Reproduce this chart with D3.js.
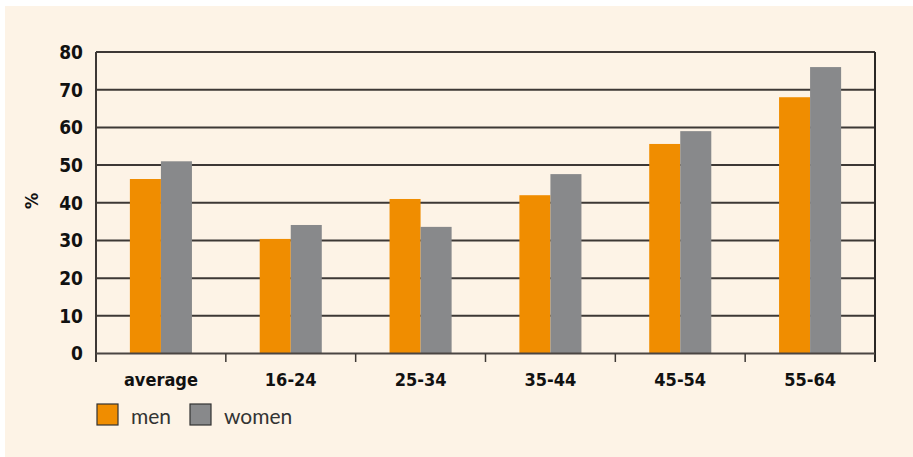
<!DOCTYPE html>
<html><head><meta charset="utf-8">
<script src="https://cdn.jsdelivr.net/npm/d3@7"></script>
<style>body{margin:0;background:#fff;}svg{display:block;}</style>
</head><body>
<svg id="chart" width="913" height="457"></svg>
<script>
const categories = ["average","16-24","25-34","35-44","45-54","55-64"];
const men =   [46.3, 30.4, 41.0, 42.0, 55.6, 68.0];
const women = [51.0, 34.1, 33.6, 47.6, 59.0, 76.0];
const yTicks = [0,10,20,30,40,50,60,70,80];
const seriesNames = ["men","women"];
const colors = ["#f08d00","#88898b"];

(function(){
const svg = d3.select("#chart");
svg.append("rect").attr("x",5).attr("y",6).attr("width",908).attr("height",451).attr("fill","#fdf3e6");

const pL=96, pR=875, pT=52, pB=353.5;
const x = d3.scaleBand().domain(categories).range([pL,pR]);
const groupW = x.bandwidth()*0.478;
const xsub = d3.scaleBand().domain(seriesNames).range([(x.bandwidth()-groupW)/2,(x.bandwidth()+groupW)/2]);
const y = d3.scaleLinear().domain([0,80]).range([pB,pT]);

// gridlines
svg.append("g").selectAll("line").data(yTicks.filter(d=>d>0)).join("line")
  .attr("x1",pL).attr("x2",pR).attr("y1",d=>y(d)).attr("y2",d=>y(d))
  .attr("stroke","#3d3835").attr("stroke-width",2);

// bars
const data = categories.map((c,i)=>({c, vals:[men[i],women[i]]}));
const g = svg.append("g").selectAll("g").data(data).join("g")
  .attr("transform",d=>`translate(${x(d.c)},0)`);
g.selectAll("rect").data(d=>d.vals.map((v,j)=>({v,s:seriesNames[j],j}))).join("rect")
  .attr("x",d=>xsub(d.s)).attr("width",xsub.bandwidth())
  .attr("y",d=>y(d.v)).attr("height",d=>y(0)-y(d.v))
  .attr("fill",d=>colors[d.j]);

// axes lines
svg.append("line").attr("x1",pL).attr("x2",pL).attr("y1",pT).attr("y2",362).attr("stroke","#3d3835").attr("stroke-width",2);
svg.append("line").attr("x1",pR).attr("x2",pR).attr("y1",pT).attr("y2",362).attr("stroke","#2a2725").attr("stroke-width",2);
svg.append("line").attr("x1",pL).attr("x2",pR).attr("y1",y(0)).attr("y2",y(0)).attr("stroke","#4a4542").attr("stroke-width",2);
svg.append("g").selectAll("line").data(categories.slice(1)).join("line")
  .attr("x1",d=>x(d)).attr("x2",d=>x(d)).attr("y1",y(0)).attr("y2",362)
  .attr("stroke","#3d3835").attr("stroke-width",1.5);

const boldFont = "'DejaVu Sans Condensed', 'DejaVu Sans', sans-serif";
svg.append("g").selectAll("text").data(yTicks).join("text")
  .attr("x",83).attr("y",d=>y(d)).attr("dy","0.36em").attr("text-anchor","end")
  .attr("font-family",boldFont).attr("font-weight","bold").attr("font-size",19)
  .attr("fill","#111").text(d=>d);
svg.append("g").selectAll("text").data(categories).join("text")
  .attr("x",d=>x(d)+x.bandwidth()/2).attr("y",386)
  .attr("text-anchor","middle")
  .attr("font-family",boldFont).attr("font-weight","bold").attr("font-size",18)
  .attr("fill","#111").text(d=>d);
svg.append("text").attr("transform","translate(38,201) rotate(-90)")
  .attr("text-anchor","middle").attr("font-family",boldFont).attr("font-weight","bold")
  .attr("font-size",18).attr("fill","#111").text("%");

const legX = [97, 190];
const lg = svg.append("g").selectAll("g").data(seriesNames).join("g")
  .attr("transform",(d,i)=>`translate(${legX[i]},404)`);
lg.append("rect").attr("width",21).attr("height",21).attr("fill",(d,i)=>colors[i])
  .attr("stroke","#333").attr("stroke-width",1.2);
lg.append("text").attr("x",34).attr("y",20).attr("font-family","Lato, 'Open Sans', sans-serif")
  .attr("font-size",21).attr("fill","#333").text(d=>d);
})();
</script>
</body></html>
